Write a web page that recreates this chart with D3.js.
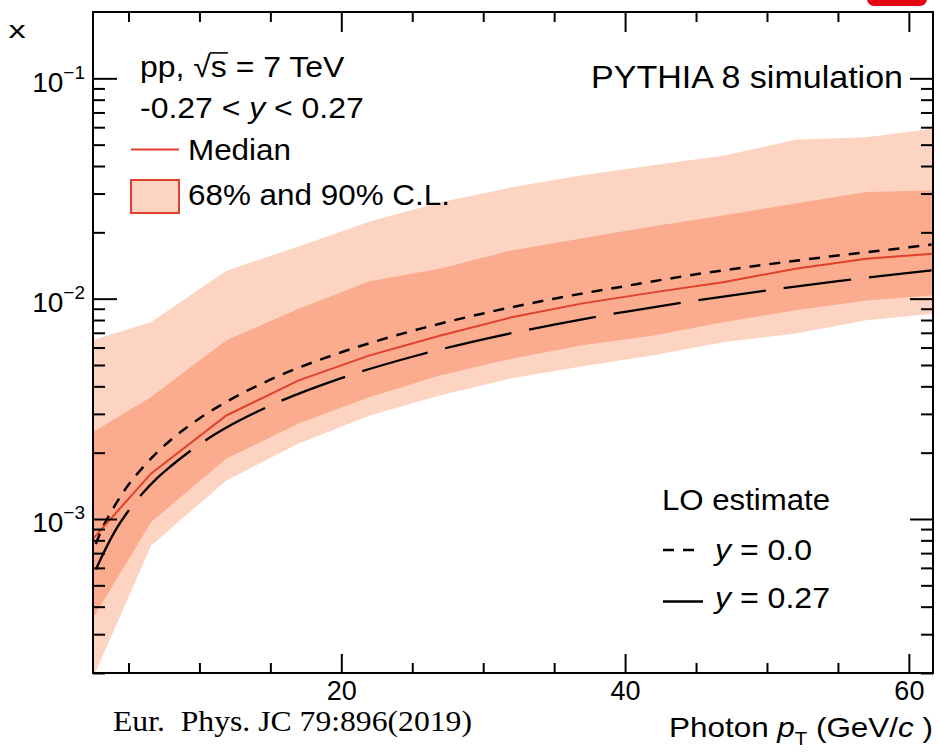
<!DOCTYPE html>
<html><head><meta charset="utf-8">
<script src="https://cdn.jsdelivr.net/npm/d3@7/dist/d3.min.js"></script>
<style>
html,body{margin:0;padding:0;background:#fff;}
svg{display:block;font-family:"Liberation Sans",Arial,Helvetica,sans-serif;}
</style></head><body>
<svg id="chart" width="941" height="752"></svg>
<script>
// Photon pT points (GeV/c) at which the PYTHIA 8 distribution of x is summarised
const ptBins  = [2.5, 6.6, 11.9, 17, 22, 27, 32, 37, 42, 47, 52, 57, 61.7];
const median  = [8.14e-4, 1.61e-3, 2.95e-3, 4.26e-3, 5.53e-3, 6.81e-3, 8.23e-3, 9.52e-3, 1.068e-2, 1.19e-2, 1.368e-2, 1.519e-2, 1.60e-2];
const cl68Low  = [3.54e-4, 9.68e-4, 1.88e-3, 2.71e-3, 3.58e-3, 4.49e-3, 5.34e-3, 6.14e-3, 6.81e-3, 7.83e-3, 8.85e-3, 9.82e-3, 1.035e-2];
const cl68High = [2.48e-3, 3.58e-3, 6.47e-3, 9.01e-3, 1.198e-2, 1.372e-2, 1.656e-2, 1.878e-2, 2.13e-2, 2.39e-2, 2.70e-2, 3.05e-2, 3.10e-2];
const cl90Low  = [1.9e-4, 7.59e-4, 1.497e-3, 2.20e-3, 2.95e-3, 3.64e-3, 4.35e-3, 4.93e-3, 5.53e-3, 6.35e-3, 6.94e-3, 7.97e-3, 8.55e-3];
const cl90High = [6.47e-3, 7.83e-3, 1.337e-2, 1.727e-2, 2.24e-2, 2.74e-2, 3.20e-2, 3.63e-2, 4.03e-2, 4.47e-2, 5.26e-2, 5.40e-2, 5.91e-2];

// Leading-order estimate of x versus photon pT, at y = 0 and y = 0.27
const loPt   = [2.7, 3, 4, 5, 6, 7, 8, 10, 12, 15, 20, 25, 30, 35, 40, 45, 50, 55, 60, 61.6];
const loY0   = [7.7e-4, 8.6e-4, 1.14e-3, 1.43e-3, 1.71e-3, 2.0e-3, 2.29e-3, 2.86e-3, 3.43e-3, 4.29e-3, 5.71e-3, 7.14e-3, 8.57e-3, 1.0e-2, 1.14e-2, 1.29e-2, 1.43e-2, 1.57e-2, 1.71e-2, 1.76e-2];
const loY027 = [5.9e-4, 6.5e-4, 8.7e-4, 1.09e-3, 1.31e-3, 1.53e-3, 1.74e-3, 2.18e-3, 2.62e-3, 3.27e-3, 4.36e-3, 5.45e-3, 6.54e-3, 7.63e-3, 8.72e-3, 9.81e-3, 1.09e-2, 1.2e-2, 1.31e-2, 1.345e-2];

// Axis ticks
const xMajor = [20, 40, 60];
const xMinor = [5, 10, 15, 25, 30, 35, 45, 50, 55];
const yMajor = [1e-3, 1e-2, 1e-1];
const yMajorExp = ["\u22123", "\u22122", "\u22121"];
const yMinor = [2e-4,3e-4,4e-4,5e-4,6e-4,7e-4,8e-4,9e-4,
                2e-3,3e-3,4e-3,5e-3,6e-3,7e-3,8e-3,9e-3,
                2e-2,3e-2,4e-2,5e-2,6e-2,7e-2,8e-2,9e-2];

const colLight = "#fdd4c2", colDark = "#fbab8e", colRed = "#e0412c";

const L = 93, R = 933, T = 12, B = 673;
const svg = d3.select("#chart");

const x = d3.scaleLinear().domain([2.5, 61.7]).range([L, R]);
const y = d3.scaleLog().domain([2e-4, 0.2]).range([B, T]);

svg.append("defs").append("clipPath").attr("id", "plotArea")
  .append("rect").attr("x", L).attr("y", T).attr("width", R - L).attr("height", B - T);

const plot = svg.append("g").attr("clip-path", "url(#plotArea)");

const bandIdx = d3.range(ptBins.length);
const band = (lo, hi) => d3.area()
  .x(i => x(ptBins[i])).y0(i => y(lo[i])).y1(i => y(hi[i]));

plot.append("path").attr("d", band(cl90Low, cl90High)(bandIdx)).attr("fill", colLight);
plot.append("path").attr("d", band(cl68Low, cl68High)(bandIdx)).attr("fill", colDark);

const loLine = vals => d3.line().curve(d3.curveMonotoneX)
  .x(i => x(loPt[i])).y(i => y(vals[i]))(d3.range(loPt.length));

plot.append("path").attr("d", loLine(loY027)).attr("fill", "none")
  .attr("stroke", "#000").attr("stroke-width", 2.3).attr("stroke-dasharray", "68,18");
plot.append("path").attr("d", loLine(loY0)).attr("fill", "none")
  .attr("stroke", "#000").attr("stroke-width", 2.5).attr("stroke-dasharray", "11,9");

plot.append("path")
  .attr("d", d3.line().x(i => x(ptBins[i])).y(i => y(median[i]))(bandIdx))
  .attr("fill", "none").attr("stroke", colRed).attr("stroke-width", 2);

// Axes: ticks point inwards on all four sides
function styleAxis(g) {
  g.attr("font-size", null).attr("font-family", null);
  g.select(".domain").remove();
  g.selectAll(".tick line").attr("stroke", "#000").attr("stroke-width", 2);
}
svg.append("g").attr("transform", `translate(0,${B})`)
  .call(d3.axisBottom(x).tickValues(xMajor).tickSize(-19).tickPadding(8).tickFormat(d3.format("d")))
  .call(styleAxis)
  .selectAll("text").attr("font-size", 27).attr("fill", "#000");
svg.append("g").attr("transform", `translate(0,${B})`)
  .call(d3.axisBottom(x).tickValues(xMinor).tickSize(-10).tickFormat("")).call(styleAxis);
svg.append("g").attr("transform", `translate(0,${T})`)
  .call(d3.axisTop(x).tickValues(xMajor).tickSize(-20).tickFormat("")).call(styleAxis);
svg.append("g").attr("transform", `translate(0,${T})`)
  .call(d3.axisTop(x).tickValues(xMinor).tickSize(-10).tickFormat("")).call(styleAxis);

const gyl = svg.append("g").attr("transform", `translate(${L},0)`)
  .call(d3.axisLeft(y).tickValues(yMajor).tickSize(-24).tickPadding(8).tickFormat(""))
  .call(styleAxis);
gyl.selectAll(".tick").each(function (d, i) {
  const t = d3.select(this).select("text")
    .attr("x", -8).attr("dy", null).attr("y", 13)
    .attr("text-anchor", "end").attr("fill", "#000").attr("font-size", 28);
  t.append("tspan").text("10");
  t.append("tspan").attr("font-size", 19).attr("dy", -13).text(yMajorExp[i]);
});
svg.append("g").attr("transform", `translate(${L},0)`)
  .call(d3.axisLeft(y).tickValues(yMinor).tickSize(-12).tickFormat("")).call(styleAxis);
svg.append("g").attr("transform", `translate(${R},0)`)
  .call(d3.axisRight(y).tickValues(yMajor).tickSize(-23).tickFormat("")).call(styleAxis);
svg.append("g").attr("transform", `translate(${R},0)`)
  .call(d3.axisRight(y).tickValues(yMinor).tickSize(-12).tickFormat("")).call(styleAxis);

svg.append("rect").attr("x", L).attr("y", T).attr("width", R - L).attr("height", B - T)
  .attr("fill", "none").attr("stroke", "#000").attr("stroke-width", 2);

// Stretch a text element to a given width
const fit = (sel, w) => sel.attr("textLength", w).attr("lengthAdjust", "spacingAndGlyphs");

// Axis titles
svg.append("text").attr("transform", "translate(17,38) scale(1.15,0.78)")
  .attr("text-anchor", "middle").attr("font-size", 30).text("x");

const xt = svg.append("text").attr("x", 933).attr("y", 737).attr("text-anchor", "end")
  .attr("font-size", 28);
xt.append("tspan").text("Photon ");
xt.append("tspan").attr("font-style", "italic").text("p");
xt.append("tspan").attr("font-size", 18).attr("dy", 8).text("T");
xt.append("tspan").attr("dy", -8).text(" (GeV/");
xt.append("tspan").attr("font-style", "italic").text("c");
xt.append("tspan").text(" )");
fit(xt, 264);

// Upper-left labels and legend
const g1 = svg.append("g").attr("transform", "translate(140,77) scale(1.065,1)");
const t1 = g1.append("text").attr("font-size", 30);
t1.append("tspan").text("pp, ");
t1.append("tspan").text("\u221A");
const sSpan = t1.append("tspan").text("s");
t1.append("tspan").text(" = 7 TeV");
const sb = sSpan.node().getBBox();
g1.append("line").attr("x1", sb.x - 1).attr("x2", sb.x + sb.width + 1)
  .attr("y1", sb.y + 3).attr("y2", sb.y + 3).attr("stroke", "#000").attr("stroke-width", 1.6);

const g2 = svg.append("g").attr("transform", "translate(140,118) scale(1.065,1)");
const t2 = g2.append("text").attr("font-size", 30);
t2.append("tspan").text("-0.27 < ");
t2.append("tspan").attr("font-style", "italic").text("y");
t2.append("tspan").text(" < 0.27");

svg.append("line").attr("x1", 131).attr("x2", 179).attr("y1", 149.5).attr("y2", 149.5)
  .attr("stroke", colRed).attr("stroke-width", 2);
fit(svg.append("text").attr("x", 188).attr("y", 160).attr("font-size", 30).text("Median"), 103);

svg.append("rect").attr("x", 131).attr("y", 180).attr("width", 48).attr("height", 33)
  .attr("fill", colLight).attr("stroke", colRed).attr("stroke-width", 2);
fit(svg.append("text").attr("x", 188).attr("y", 205).attr("font-size", 30).text("68% and 90% C.L."), 262);

fit(svg.append("text").attr("x", 591).attr("y", 88).attr("font-size", 32)
  .text("PYTHIA 8 simulation"), 312);

// LO estimate legend
fit(svg.append("text").attr("x", 662).attr("y", 510).attr("font-size", 30).text("LO estimate"), 168);
svg.append("line").attr("x1", 663).attr("x2", 697).attr("y1", 550).attr("y2", 550)
  .attr("stroke", "#000").attr("stroke-width", 2.5).attr("stroke-dasharray", "11,9");
const l1 = svg.append("text").attr("x", 715).attr("y", 560).attr("font-size", 30);
l1.append("tspan").attr("font-style", "italic").text("y");
l1.append("tspan").text(" = 0.0");
fit(l1, 97);
svg.append("line").attr("x1", 663).attr("x2", 703).attr("y1", 601.5).attr("y2", 601.5)
  .attr("stroke", "#000").attr("stroke-width", 2.3);
const l2 = svg.append("text").attr("x", 715).attr("y", 608).attr("font-size", 30);
l2.append("tspan").attr("font-style", "italic").text("y");
l2.append("tspan").text(" = 0.27");
fit(l2, 115);

// Citation
fit(svg.append("text").attr("x", 113).attr("y", 731)
  .attr("font-family", "'Liberation Serif','Times New Roman',serif")
  .attr("font-size", 30).attr("xml:space", "preserve").style("white-space", "pre")
  .text("Eur.  Phys. JC 79:896(2019)"), 359);

// Red badge at the top-right edge
svg.append("rect").attr("x", 867).attr("y", -12).attr("width", 60).attr("height", 18)
  .attr("rx", 7).attr("fill", "#e30613");
</script>
</body></html>
